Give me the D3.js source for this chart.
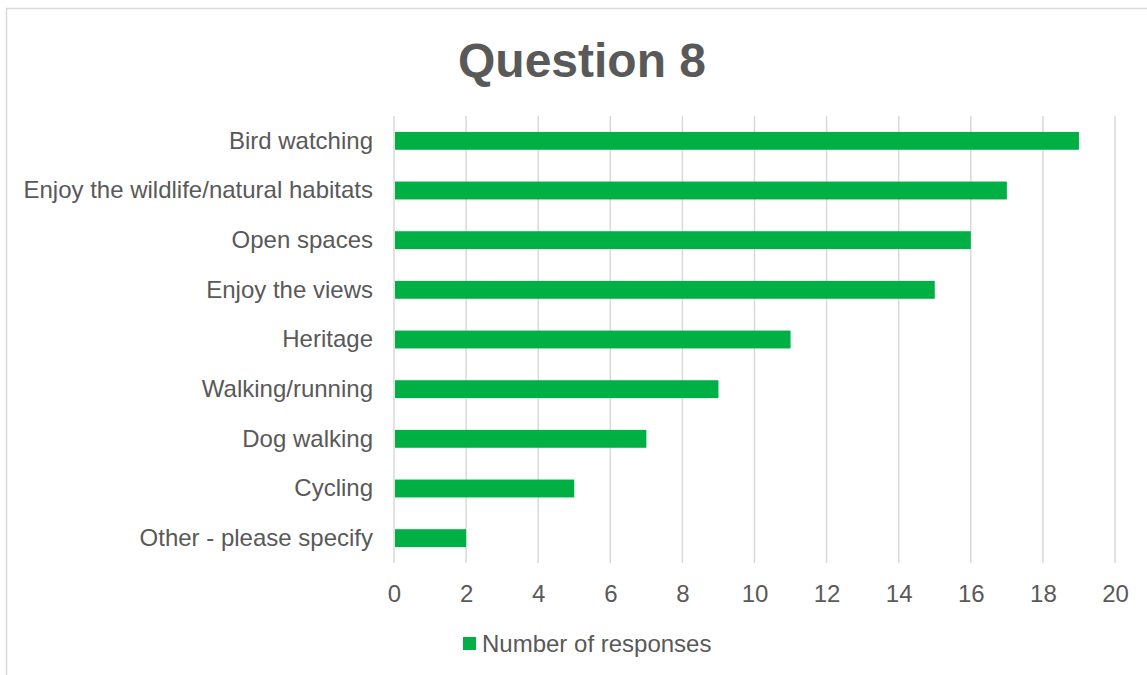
<!DOCTYPE html>
<html>
<head>
<meta charset="utf-8">
<script src="https://cdn.jsdelivr.net/npm/d3@7"></script>
<style>
  body { margin: 0; background: #fff; }
  text { font-family: "Liberation Sans", Arial, sans-serif; fill: #595959; }
</style>
</head>
<body>
<div id="chart"></div>
<script>
var categories = ["Bird watching", "Enjoy the wildlife/natural habitats", "Open spaces", "Enjoy the views",
  "Heritage", "Walking/running", "Dog walking", "Cycling", "Other - please specify"];
var responses = [19, 17, 16, 15, 11, 9, 7, 5, 2];
var xTicks = [0, 2, 4, 6, 8, 10, 12, 14, 16, 18, 20];
var seriesName = "Number of responses";
var title = "Question 8";

var W = 1147, H = 675;
var margin = {top: 116, left: 394, right: 32, bottom: 112};
var width = W - margin.left - margin.right,
    height = H - margin.top - margin.bottom;

var svg = d3.select("#chart").append("svg")
  .attr("width", W)
  .attr("height", H);

// outer chart border
svg.append("rect")
  .attr("x", 6.5).attr("y", 8.5)
  .attr("width", W + 20).attr("height", H + 20)
  .attr("fill", "none")
  .attr("stroke", "#d9d9d9")
  .attr("stroke-width", 1.5);

svg.append("text")
  .attr("x", 582).attr("y", 77)
  .attr("text-anchor", "middle")
  .style("font-size", "48px")
  .style("font-weight", "bold")
  .text(title);

var g = svg.append("g")
  .attr("transform", "translate(" + margin.left + "," + margin.top + ")");

var x = d3.scaleLinear().domain([0, 20]).range([0, width]);
var y = d3.scaleBand().domain(categories).range([0, height]).paddingInner(0.64).paddingOuter(0.32);

// vertical gridlines
g.selectAll(".grid").data(xTicks).enter().append("line")
  .attr("class", "grid")
  .attr("x1", function (d) { return x(d); })
  .attr("x2", function (d) { return x(d); })
  .attr("y1", 0).attr("y2", height)
  .attr("stroke", "#d9d9d9")
  .attr("stroke-width", 1.5);

g.selectAll(".bar").data(responses).enter().append("rect")
  .attr("class", "bar")
  .attr("x", x(0) + 1)
  .attr("y", function (d, i) { return y(categories[i]); })
  .attr("width", function (d) { return x(d) - x(0) - 1; })
  .attr("height", y.bandwidth())
  .attr("fill", "#00b045");

var xAxis = g.append("g")
  .attr("transform", "translate(0," + height + ")")
  .call(d3.axisBottom(x).tickValues(xTicks).tickSize(0).tickPadding(22));
xAxis.select(".domain").remove();
xAxis.selectAll("text").style("font-size", "24px").attr("fill", "#595959");

var yAxis = g.append("g")
  .call(d3.axisLeft(y).tickSize(0).tickPadding(21));
yAxis.select(".domain").remove();
yAxis.selectAll("text").style("font-size", "24px").attr("fill", "#595959");

// legend
var legend = svg.append("g").attr("transform", "translate(463,637)");
legend.append("rect").attr("width", 13).attr("height", 13).attr("fill", "#00b045");
legend.append("text").attr("x", 19).attr("y", 15)
  .style("font-size", "24px")
  .text(seriesName);
</script>
</body>
</html>
